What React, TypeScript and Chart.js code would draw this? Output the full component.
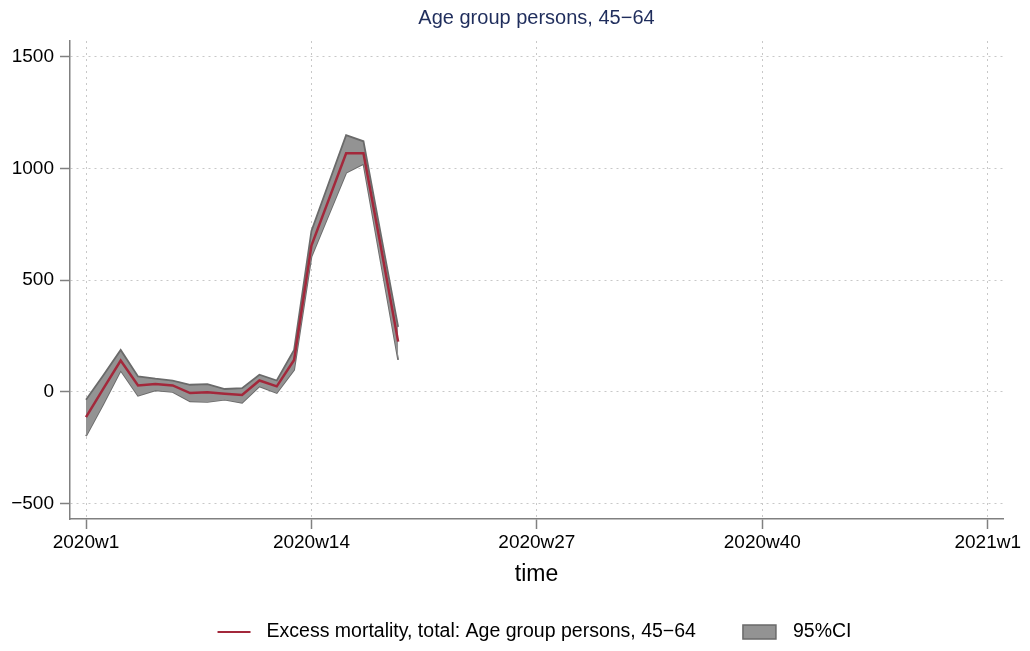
import React, { useEffect, useRef } from "react";
import { Chart, registerables } from "chart.js";

Chart.register(...registerables);

// ---- data ----
const weeks = [1, 2, 3, 4, 5, 6, 7, 8, 9, 10, 11, 12, 13, 14, 15, 16, 17, 18, 19];
const estimate = [-114, 14, 139, 28, 34, 28, -6, -3, -9, -15, 50, 24, 142, 654, 860, 1067, 1067, 650, 224];
const upperCI = [-36, 74, 187, 68, 58, 50, 31, 34, 12, 16, 76, 50, 187, 720, 934, 1148, 1121, 705, 290];
const lowerCI = [-199, -55, 95, -18, 6, -1, -43, -46, -36, -50, 24, -6, 98, 605, 792, 980, 1020, 581, 142];

const xTickValues = [1, 14, 27, 40, 53];
const xTickLabels = ["2020w1", "2020w14", "2020w27", "2020w40", "2021w1"];
const yTickValues = [-500, 0, 500, 1000, 1500];

const titleText = "Age group persons, 45\u221264";
const xTitleText = "time";
const seriesLabel = "Excess mortality, total: Age group persons, 45\u221264";
const ciLabel = "95%CI";

const FONT = '"Liberation Sans", Arial, Helvetica, sans-serif';
const LINE_RED = "#a3283b";
const CI_FILL = "#939393";
const CI_EDGE = "#6a6a6a";
const AXIS = "#808080";
const GRID = "#c8c8c8";

const toPts = (ys: number[]) => ys.map((y, i) => ({ x: weeks[i], y }));

const overlay = {
  id: "overlay",
  afterDraw(chart: any) {
    const ctx = chart.ctx as CanvasRenderingContext2D;
    const ca = chart.chartArea;
    const cx = (ca.left + ca.right) / 2;
    ctx.save();
    ctx.textBaseline = "middle";
    ctx.textAlign = "center";
    ctx.fillStyle = "#1f2d5c";
    ctx.font = `20px ${FONT}`;
    ctx.fillText(titleText, cx, 18);

    ctx.fillStyle = "#000";
    ctx.font = `23px ${FONT}`;
    ctx.fillText(xTitleText, cx, 575);

    // legend
    ctx.font = `19.5px ${FONT}`;
    const w1 = ctx.measureText(seriesLabel).width;
    const w2 = ctx.measureText(ciLabel).width;
    const sym = 33, gapA = 16, gapB = 47, gapC = 17;
    const total = sym + gapA + w1 + gapB + sym + gapC + w2;
    let x = cx - 2 - total / 2;
    const ly = 632;
    ctx.strokeStyle = LINE_RED;
    ctx.lineWidth = 2;
    ctx.beginPath();
    ctx.moveTo(x, ly);
    ctx.lineTo(x + sym, ly);
    ctx.stroke();
    x += sym + gapA;
    ctx.textAlign = "left";
    ctx.fillStyle = "#000";
    ctx.fillText(seriesLabel, x, ly);
    x += w1 + gapB;
    ctx.fillStyle = CI_FILL;
    ctx.fillRect(x, ly - 7, sym, 14);
    ctx.strokeStyle = CI_EDGE;
    ctx.lineWidth = 1.5;
    ctx.strokeRect(x, ly - 7, sym, 14);
    x += sym + gapC;
    ctx.fillStyle = "#000";
    ctx.fillText(ciLabel, x, ly);
    ctx.restore();
  },
};

export default function App() {
  const ref = useRef<HTMLCanvasElement | null>(null);

  useEffect(() => {
    if (!ref.current) return;
    const chart = new Chart(ref.current, {
      type: "line",
      data: {
        datasets: [
          {
            label: seriesLabel,
            data: toPts(estimate),
            borderColor: LINE_RED,
            borderWidth: 2.5,
            pointRadius: 0,
            fill: false,
            tension: 0,
            order: 0,
          },
          {
            label: ciLabel,
            data: toPts(upperCI),
            borderColor: CI_EDGE,
            borderWidth: 1.8,
            backgroundColor: CI_FILL,
            pointRadius: 0,
            fill: "+1",
            tension: 0,
            order: 1,
          },
          {
            label: "lower",
            data: toPts(lowerCI),
            borderColor: CI_EDGE,
            borderWidth: 1.8,
            pointRadius: 0,
            fill: false,
            tension: 0,
            order: 2,
          },
        ],
      },
      options: {
        animation: false,
        responsive: false,
        maintainAspectRatio: false,
        layout: { padding: { top: 41, left: 0, right: 27, bottom: 0 } },
        plugins: {
          legend: { display: false },
          title: { display: false },
          tooltip: { enabled: false },
        },
        scales: {
          x: {
            type: "linear",
            min: 0.077,
            max: 53.88,
            afterBuildTicks: (s: any) => {
              s.ticks = xTickValues.map((v) => ({ value: v }));
            },
            afterFit: (s: any) => {
              s.height = 132;
            },
            ticks: {
              autoSkip: false,
              maxRotation: 0,
              padding: 2,
              color: "#000",
              font: { family: FONT, size: 19 },
              callback: (v: any) => {
                const i = xTickValues.indexOf(Number(v));
                return i >= 0 ? xTickLabels[i] : "";
              },
            },
            grid: {
              color: GRID,
              lineWidth: 1,
              drawTicks: true,
              tickLength: 10,
              tickColor: AXIS,
              tickWidth: 1.5,
            },
            border: { display: true, color: AXIS, width: 1.5, dash: [2, 4] },
          },
          y: {
            type: "linear",
            min: -570,
            max: 1570,
            afterBuildTicks: (s: any) => {
              s.ticks = yTickValues.map((v) => ({ value: v }));
            },
            afterFit: (s: any) => {
              s.width = 70;
            },
            ticks: {
              padding: 6,
              color: "#000",
              font: { family: FONT, size: 19 },
              callback: (v: any) => String(v).replace("-", "\u2212"),
            },
            grid: {
              color: GRID,
              lineWidth: 1,
              drawTicks: true,
              tickLength: 10,
              tickColor: AXIS,
              tickWidth: 1.5,
            },
            border: { display: true, color: AXIS, width: 1.5, dash: [2, 4] },
          },
        },
      },
      plugins: [overlay],
    } as any);
    return () => chart.destroy();
  }, []);

  return (
    <div style={{ position: "fixed", left: 0, top: 0, width: 1030, height: 651, background: "#fff" }}>
      <canvas ref={ref} width={1030} height={651} style={{ display: "block" }} />
    </div>
  );
}
